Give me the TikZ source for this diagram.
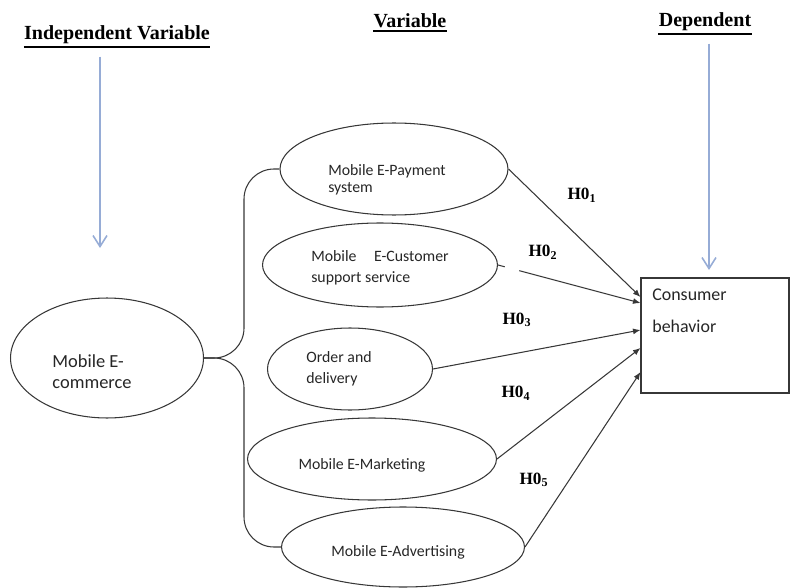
\documentclass[tikz,border=0pt]{standalone}
\usepackage{fontspec}
\newfontfamily\headfont{Liberation Serif}
\newfontfamily\bodyfont{Carlito}
\usetikzlibrary{arrows.meta,shapes.geometric}
\definecolor{arrowblue}{RGB}{150,172,214}
\definecolor{linegray}{RGB}{55,55,55}

\tikzset{
	heading/.style={font=\headfont\bfseries\fontsize{11.4}{13}\selectfont, inner sep=0pt, anchor=base,
		append after command={([yshift=-1.2pt]\tikzlastnode.south west) edge[line width=1.3pt] ([yshift=-1.2pt]\tikzlastnode.south east)}},
	hyp/.style={font=\headfont\bfseries\fontsize{9.8}{11}\selectfont, inner sep=0pt},
	vari/.style={ellipse, draw=linegray, semithick, inner sep=0pt},
	vlabel/.style={inner sep=0pt, align=left, text=black!85, font=\bodyfont\fontsize{9}{12}\selectfont},
	link/.style={draw=linegray, semithick, rounded corners=0.6cm},
	hyparrow/.style={draw=linegray, semithick, -{Latex[length=1.5mm,width=1.2mm]}},
	barrow/.style={draw=arrowblue, line width=0.9pt, -{Straight Barb[length=2.2mm,width=2.8mm]}}
}

\begin{document}
\begin{tikzpicture}[x=0.02cm,y=-0.02cm]
	\useasboundingbox (0,0) rectangle (791,588);
	% headings
	\node[heading] (ind) at (117,40) {Independent Variable};
	\node[heading] (var) at (410,28) {Variable};
	\node[heading] (dep) at (705,27) {Dependent};
	\coordinate (indtip) at (100,248);
	\coordinate (deptip) at (709,270);
	\draw[barrow] (indtip |- ind.south) ++(0,12) -- (indtip);
	\draw[barrow] (deptip |- dep.south) ++(0,12) -- (deptip);

	% variables
	\node[vari, minimum width=3.86cm, minimum height=2.4cm,
		label={[vlabel, font=\bodyfont\fontsize{10.5}{12}\selectfont, xshift=-0.3cm, yshift=-0.28cm]center:Mobile E-\\commerce}] (com) at (107,358) {};
	\node[vari, minimum width=4.56cm, minimum height=1.84cm,
		label={[vlabel, font=\bodyfont\fontsize{9}{9.5}\selectfont, xshift=-0.14cm, yshift=-0.22cm]center:Mobile E-Payment\\system}] (pay) at (394,169) {};
	\node[vari, minimum width=4.7cm, minimum height=1.68cm,
		label={[vlabel, yshift=-0.06cm]center:Mobile\hspace{10pt}E-Customer\\support service}] (cus) at (380,265) {};
	\node[vari, minimum width=3.3cm, minimum height=1.64cm,
		label={[vlabel, xshift=-0.22cm]center:Order and\\delivery}] (ord) at (350,369) {};
	\node[vari, minimum width=4.98cm, minimum height=1.64cm,
		label={[vlabel, xshift=-0.2cm, yshift=-0.13cm]center:Mobile E-Marketing}] (mkt) at (372,459) {};
	\node[vari, minimum width=4.86cm, minimum height=1.6cm,
		label={[vlabel, xshift=-0.1cm, yshift=-0.1cm]center:Mobile E-Advertising}] (adv) at (403,547) {};
	\draw[link] (com.east) -- ++(40,0) |- (pay.west);
	\draw[link] (com.east) -- ++(40,0) |- (adv.west);

	% dependent box
	\node[draw=linegray, semithick, minimum width=2.96cm, minimum height=2.3cm] (cb) at (715,335.5) {};
	\node[anchor=north west, align=left, inner sep=0pt, text=black!85, font=\bodyfont\fontsize{10.2}{18}\selectfont]
		(cbtext) at ([shift={(0.23cm,-0.22cm)}]cb.north west) {Consumer\\behavior};

	\draw[hyparrow] (pay.east) -- (cb.west |- 0,297);
	\draw[hyparrow, dash pattern=on 0.14cm off 0.3cm on 8cm] (cus.east) -- (cb.west |- 0,303);
	\draw[hyparrow] (ord.east) -- (cb.west |- 0,330);
	\draw[hyparrow] (mkt.east) -- (cb.west |- 0,348);
	\draw[hyparrow] (adv.east) -- (cb.west |- 0,372);

	\node[hyp] (h1) at (582,195) {H0\textsubscript{1}};
	\node[hyp] (h2) at (543,252) {H0\textsubscript{2}};
	\node[hyp] (h3) at (517,320) {H0\textsubscript{3}};
	\node[hyp] (h4) at (516,393) {H0\textsubscript{4}};
	\node[hyp] (h5) at (534,480) {H0\textsubscript{5}};
\end{tikzpicture}
\end{document}
